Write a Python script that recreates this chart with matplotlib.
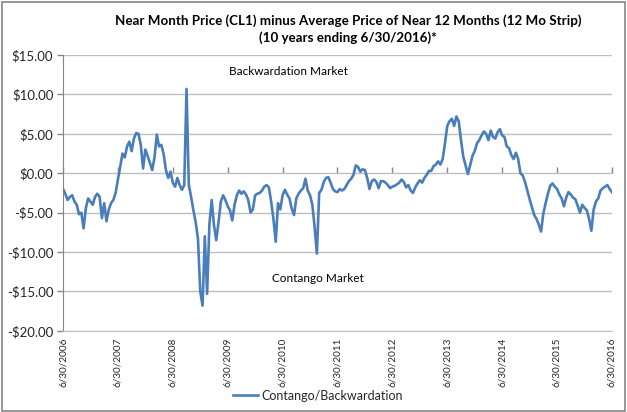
import matplotlib
matplotlib.use("Agg")
import matplotlib.pyplot as plt
from matplotlib.patches import Rectangle
import pandas as pd

plt.rcParams['font.family'] = ['Lato', 'DejaVu Sans']

title = "Near Month Price (CL1) minus Average Price of Near 12 Months (12 Mo Strip)\n(10 years ending 6/30/2016)*"
series_name = "Contango/Backwardation"
start_date = "2006-06-30"
end_date = "2016-06-30"
tick_years = list(range(2006, 2017))
y_ticks = [15, 10, 5, 0, -5, -10, -15, -20]

# semi-monthly readings, 6/30/2006 .. 6/30/2016
y2006 = [-2.0, -2.6, -3.4, -3.0, -2.8, -3.6, -4.0, -5.2, -5.0, -7.0, -4.4, -3.2,
         -3.6, -4.0, -3.0, -2.6, -3.0, -5.7, -3.8, -6.1, -4.6, -3.8, -3.4, -2.5, -0.8]
y2007 = [0.8, 2.5, 2.0, 3.4, 4.0, 2.8, 4.4, 5.1, 5.0, 3.6, 0.6, 3.0,
         2.2, 1.3, 0.4, 2.0, 4.9, 3.4, 3.6, 2.4, 0.4, -0.6, 0.2, -1.2]
y2008 = [-1.7, -0.6, -1.5, -2.1, -1.5, 10.7, -1.5, -3.0, -4.7, -6.2, -8.3, -15.0,
         -16.8, -8.0, -15.3, -6.5, -3.4, -6.6, -8.5, -6.2, -3.6, -2.8, -3.4, -4.2]
y2009 = [-4.7, -6.0, -4.0, -2.8, -2.2, -2.6, -2.3, -2.7, -3.4, -5.0, -4.6, -2.8,
         -2.6, -2.5, -2.2, -1.7, -1.5, -1.8, -3.6, -5.8, -8.7, -3.8, -4.6, -2.8]
y2010 = [-2.1, -2.7, -3.2, -4.5, -5.3, -3.2, -2.6, -2.2, -1.9, -0.7, -2.2, -2.8,
         -4.0, -6.8, -10.2, -2.5, -2.1, -1.1, -0.6, -0.5, -1.2, -2.0, -2.3, -2.4]
y2011 = [-2.0, -2.2, -2.0, -1.5, -1.0, -0.7, -0.2, 1.0, 0.8, 0.2, 0.5, 0.4,
         -0.6, -2.0, -1.0, -0.8, -1.1, -1.9, -1.0, -1.0, -1.2, -1.5, -1.9, -1.7]
y2012 = [-1.6, -1.4, -1.2, -0.8, -1.1, -1.8, -1.5, -2.2, -2.5, -1.8, -1.3, -0.9,
         -1.2, -0.6, -0.2, 0.3, 0.3, 0.9, 1.1, 1.5, 1.1, 1.8, 3.8, 6.0]
y2013 = [6.6, 6.9, 6.0, 7.2, 6.6, 4.2, 2.1, 1.0, -0.1, 1.0, 2.2, 2.8,
         3.8, 4.2, 4.8, 5.3, 5.0, 4.2, 5.4, 4.6, 4.4, 5.2, 5.6, 4.8]
y2014 = [4.6, 3.4, 3.2, 2.3, 1.8, 2.6, 1.8, 0.0, -0.3, -1.1, -2.2, -3.3,
         -4.3, -5.3, -5.8, -6.5, -7.4, -5.1, -3.8, -2.6, -1.6, -1.3, -1.7, -2.0]
y2015 = [-2.7, -3.2, -4.2, -3.1, -2.4, -2.7, -3.1, -3.3, -4.1, -5.0, -4.0, -4.4,
         -4.7, -5.8, -7.3, -4.6, -3.6, -3.2, -2.2, -1.9, -1.7, -1.5, -2.0, -2.4]

values = y2006 + y2007 + y2008 + y2009 + y2010 + y2011 + y2012 + y2013 + y2014 + y2015
dates = pd.date_range(start_date, end_date, periods=len(values))

fig = plt.figure(figsize=(6.27, 4.12), dpi=100)
ax = fig.add_axes([0.1005, 0.197, 0.8755, 0.6695])

grid_c = '#BFBFBF'
ax.plot(dates, values, color='#4A7EBB', linewidth=1.9, label=series_name, zorder=3)

ax.set_ylim(-20, 15)
ax.set_yticks(y_ticks)
ax.set_yticklabels([("-$%.2f" % abs(v)) if v < 0 else ("$%.2f" % v) for v in y_ticks],
                   fontsize=9.5, color='#262626')
ax.yaxis.grid(True, color=grid_c, linewidth=1)
ax.set_axisbelow(True)

ax.set_xlim(pd.Timestamp(start_date), pd.Timestamp(end_date))
xt = [pd.Timestamp(f"{y}-06-30") for y in tick_years]
ax.set_xticks(xt)
ax.set_xticklabels([f"6/30/{y}" for y in tick_years], rotation=90, fontsize=7.2, color='#262626')
ax.tick_params(axis='x', length=0, pad=5)
ax.tick_params(axis='y', length=4, color='#868686', width=1, pad=3)

for s in ['top', 'right']:
    ax.spines[s].set_visible(False)
ax.spines['left'].set_color('#868686')
ax.spines['bottom'].set_color(grid_c)

# category axis crossing at $0 with tick marks
sec = ax.secondary_xaxis(20 / 35)
sec.set_xticks(xt)
sec.set_xticklabels([])
sec.tick_params(axis='x', direction='out', length=4, color='#868686', width=1)
sec.spines['bottom'].set_color('#868686')
for s in ['top', 'left', 'right']:
    if s in sec.spines:
        sec.spines[s].set_visible(False)

ax.text(pd.Timestamp("2010-08-10"), 12.85, "Backwardation Market", fontsize=8.5,
        color='black', ha='center', va='center')
ax.text(pd.Timestamp("2011-02-20"), -13.4, "Contango Market", fontsize=8.5,
        color='black', ha='center', va='center')

fig.text(0.555, 0.93, title, ha='center', va='center', fontsize=9.6, fontweight='bold',
         linespacing=1.4)

fig.legend(loc='center', bbox_to_anchor=(0.507, 0.04), frameon=False, fontsize=9,
           handlelength=2.0, handletextpad=0.3, labelcolor='#262626')

fig.patches.append(Rectangle((0.003, 0.003), 0.994, 0.993, transform=fig.transFigure,
                             fill=False, edgecolor='#868686', linewidth=1.2))

fig.savefig("out.png", dpi=100)
